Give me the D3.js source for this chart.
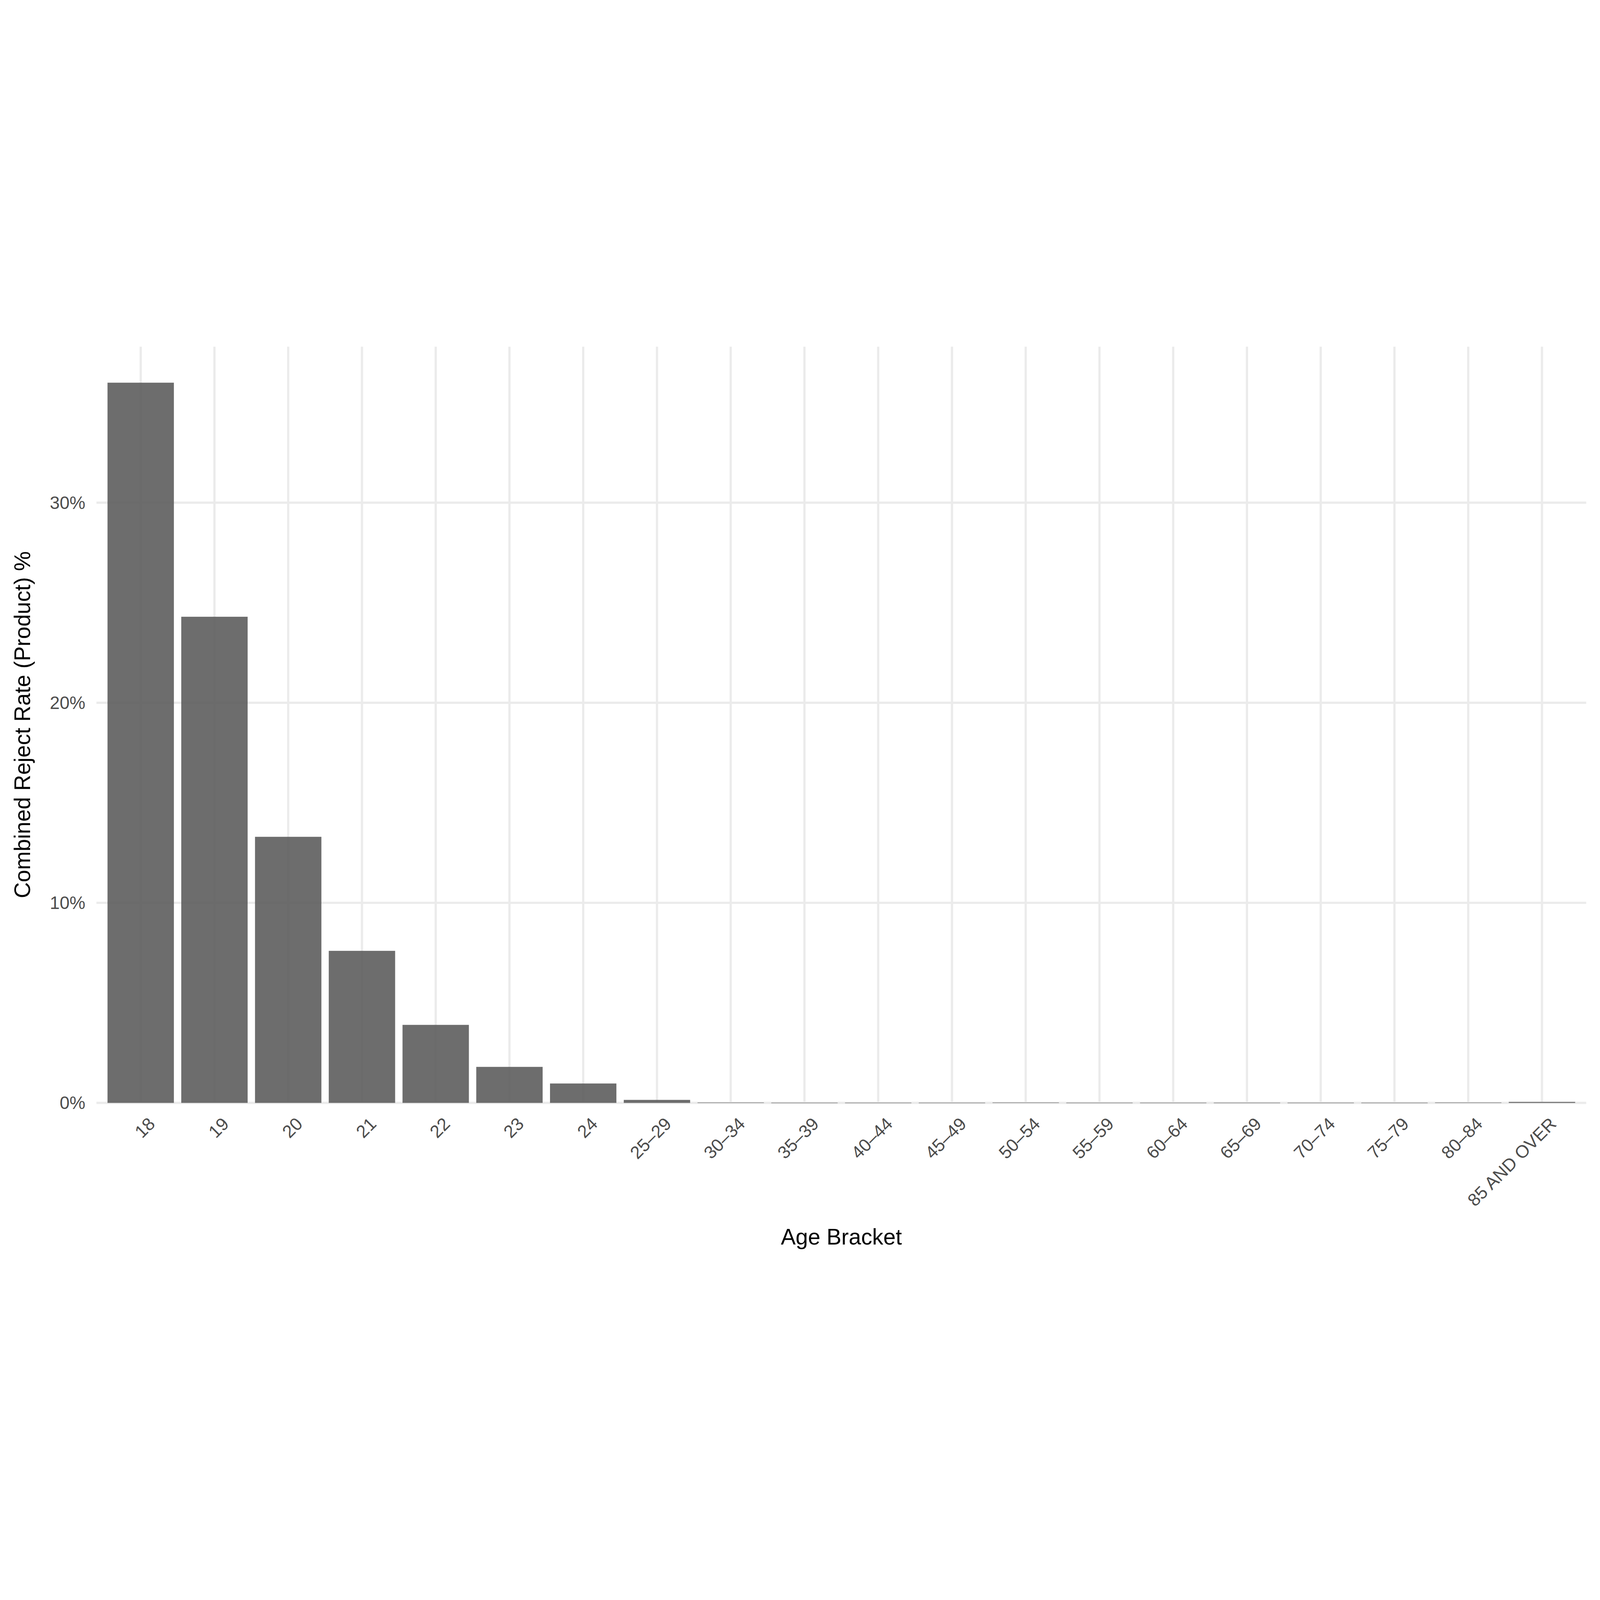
<!DOCTYPE html>
<html><head><meta charset="utf-8">
<script src="https://cdn.jsdelivr.net/npm/d3@7"></script>
<style>html,body{margin:0;padding:0;background:#fff;overflow:hidden;width:100%;height:100%}svg{display:block;width:100vw;height:100vh}</style></head>
<body><svg id="c" viewBox="0 0 7200 4200" preserveAspectRatio="xMidYMid meet"></svg>
<script>
const categories = ["18","19","20","21","22","23","24","25–29","30–34","35–39","40–44","45–49","50–54","55–59","60–64","65–69","70–74","75–79","80–84","85 AND OVER"];
const values = [36.0,24.3,13.3,7.6,3.9,1.8,0.97,0.15,0.02,0.01,0.01,0.01,0.02,0.01,0.01,0.01,0.01,0.01,0.02,0.05];
const yTicks = [0,10,20,30];

const svg = d3.select("#c");
const L=434, R=7138, T=60, B=3463;
const x = d3.scaleBand().domain(categories).range([L,R]).paddingInner(0.1).paddingOuter(0.15);
const y = d3.scaleLinear().domain([0,37.8]).range([B,T]);
const font = "Liberation Sans, Arial, sans-serif";

const g = svg.append("g");
g.selectAll(".hg").data(yTicks).join("line")
  .attr("x1",L).attr("x2",R).attr("y1",d=>y(d)).attr("y2",d=>y(d))
  .attr("stroke","#ebebeb").attr("stroke-width",10);
g.selectAll(".vg").data(categories).join("line")
  .attr("x1",d=>x(d)+x.bandwidth()/2).attr("x2",d=>x(d)+x.bandwidth()/2)
  .attr("y1",T).attr("y2",B).attr("stroke","#ebebeb").attr("stroke-width",10);

g.selectAll("rect").data(values).join("rect")
  .attr("x",(d,i)=>x(categories[i])).attr("width",x.bandwidth())
  .attr("y",d=>y(d)).attr("height",d=>Math.max(B-y(d),2))
  .attr("fill","#595959").attr("fill-opacity",0.88);

g.selectAll(".yl").data(yTicks).join("text")
  .attr("x",L-50).attr("y",d=>y(d)).attr("dy","0.35em").attr("text-anchor","end")
  .attr("font-family",font).attr("font-size",80).attr("fill","#4d4d4d").text(d=>d+"%");

g.selectAll(".xl").data(categories).join("text")
  .attr("text-anchor","end").attr("font-family",font).attr("font-size",80).attr("fill","#4d4d4d")
  .attr("transform",d=>`translate(${x(d)+x.bandwidth()/2+30},${B+60}) rotate(-45)`)
  .attr("dy","0.7em").text(d=>d);

svg.append("text").attr("x",(L+R)/2).attr("y",4100).attr("text-anchor","middle")
  .attr("font-family",font).attr("font-size",100).attr("fill","#000").text("Age Bracket");
svg.append("text").attr("transform",`translate(135,${(T+B)/2}) rotate(-90)`).attr("text-anchor","middle")
  .attr("font-family",font).attr("font-size",100).attr("fill","#000").text("Combined Reject Rate (Product) %");
</script></body></html>
